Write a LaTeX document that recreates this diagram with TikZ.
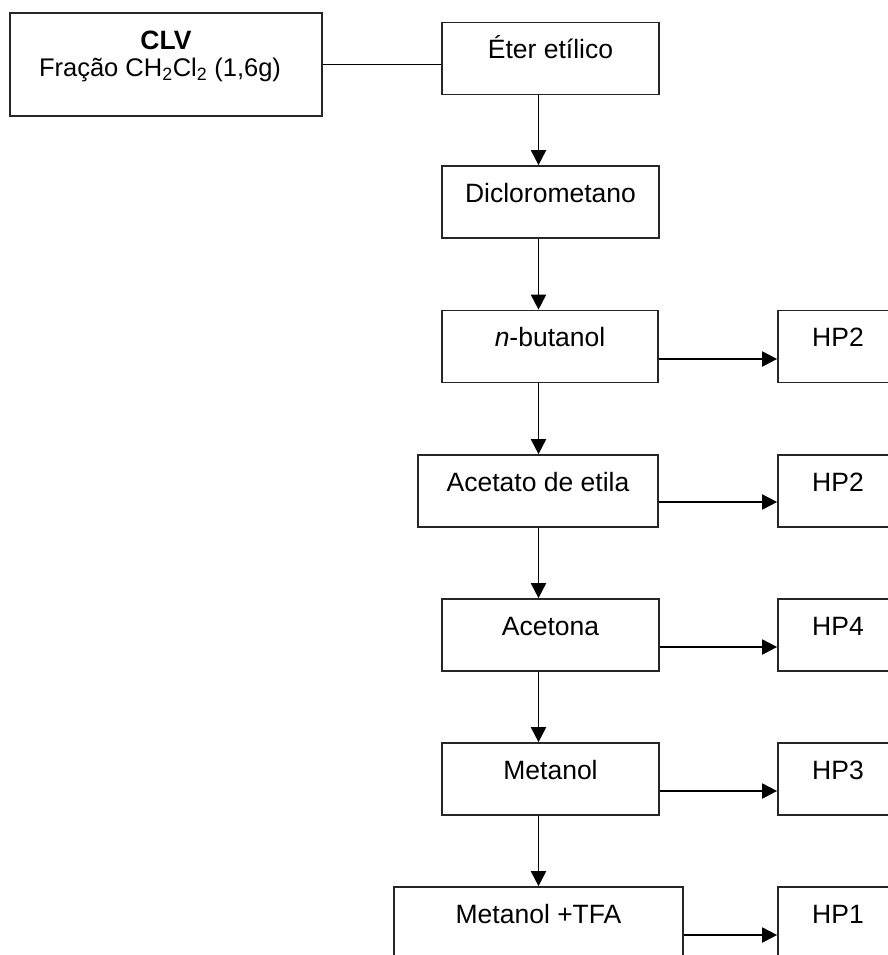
\documentclass[tikz,border=0pt]{standalone}
\usepackage{fontspec}
\setmainfont{Liberation Sans}
\usetikzlibrary{arrows.meta}
\begin{document}
\begin{tikzpicture}[x=1pt,y=-1pt,
  every node/.style={font=\fontsize{26.5}{27}\selectfont},
  box/.style={draw=black!85, line width=1.7pt, inner xsep=0pt, inner ysep=0pt,
    text height=36pt, text depth=36pt, minimum height=72pt},
  hpbox/.style={box, minimum width=120pt},
  arr/.style={line width=1.9pt, -{Triangle[length=15pt,width=15pt]}},
  plainline/.style={line width=1.9pt}]
\useasboundingbox (0,0) rectangle (888,955);
\clip (0,0) rectangle (888,955);
% CLV box
\node[draw=black!85, line width=1.7pt, minimum width=312pt, minimum height=103pt, inner sep=0pt] (clv) at (166,64.5) {};
\node[anchor=base] (clvt) at (166,50) {\textbf{CLV}};
\node[anchor=base, font=\fontsize{25.5}{27}\selectfont] (clvf) at (160,77) {Fração CH\textsubscript{2}Cl\textsubscript{2} (1,6g)};
% main column
\node[box, minimum width=217pt] (eter) at (550.5,58.5) {Éter etílico};
\node[box, minimum width=217pt] (diclo) at (550.5,202) {Diclorometano};
\node[box, minimum width=216pt] (nbut) at (550,346.5) {\textit{n}-butanol};
\node[box, minimum width=240pt] (acet) at (538,491) {Acetato de etila};
\node[box, minimum width=217pt] (acetona) at (550.5,635) {Acetona};
\node[box, minimum width=217pt] (metanol) at (550.5,779) {Metanol};
\node[box, minimum width=289pt] (tfa) at (538.5,923) {Metanol +TFA};
% right column
\node[hpbox] (hpa) at (838,346.5) {HP2};
\node[hpbox] (hpb) at (838,491) {HP2};
\node[hpbox] (hpc) at (838,635) {HP4};
\node[hpbox] (hpd) at (838,779) {HP3};
\node[hpbox] (hpe) at (838,923) {HP1};
% connectors
\coordinate (ax) at (538.5,0);
\draw[plainline] (clv.east) -- (clv.east -| eter.west);
\draw[arr] (eter.south -| ax) -- (diclo.north -| ax);
\draw[arr] (diclo.south -| ax) -- (nbut.north -| ax);
\draw[arr] (nbut.south -| ax) -- (acet.north -| ax);
\draw[arr] (acet.south -| ax) -- (acetona.north -| ax);
\draw[arr] (acetona.south -| ax) -- (metanol.north -| ax);
\draw[arr] (metanol.south -| ax) -- (tfa.north -| ax);
\draw[arr] ([yshift=-12.5pt]nbut.east) -- ([yshift=-12.5pt]hpa.west);
\draw[arr] ([yshift=-11pt]acet.east) -- ([yshift=-11pt]hpb.west);
\draw[arr] ([yshift=-12pt]acetona.east) -- ([yshift=-12pt]hpc.west);
\draw[arr] ([yshift=-12pt]metanol.east) -- ([yshift=-12pt]hpd.west);
\draw[arr] ([yshift=-12pt]tfa.east) -- ([yshift=-12pt]hpe.west);
\end{tikzpicture}
\end{document}
